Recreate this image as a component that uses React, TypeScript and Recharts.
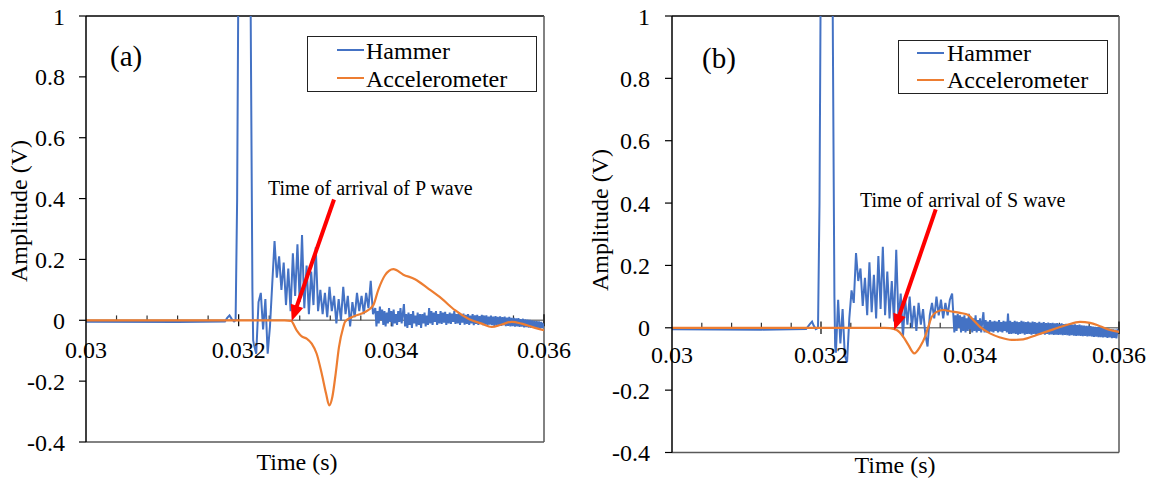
import React from 'react';
import { LineChart, Line, XAxis, YAxis, ReferenceLine, ReferenceDot, Legend } from 'recharts';

const FONT = '"Liberation Serif", "Times New Roman", Times, serif';
const BLUE = '#4472C4';
const ORANGE = '#ED7D31';
const RED = '#FF0000';

const seriesNames = ['Hammer', 'Accelerometer'];
const seriesColors = [BLUE, ORANGE];

const yTicks = [-0.4, -0.2, 0, 0.2, 0.4, 0.6, 0.8, 1];
const yMinorTicks = [-0.4, -0.36, -0.32, -0.28, -0.24, -0.2, -0.16, -0.12, -0.08, -0.04, 0, 0.04, 0.08, 0.12, 0.16, 0.2, 0.24, 0.28, 0.32, 0.36, 0.4, 0.44, 0.48, 0.52, 0.56, 0.6, 0.64, 0.68, 0.72, 0.76, 0.8, 0.84, 0.88, 0.92, 0.96, 1];
const xMajorTicks = [0.03, 0.032, 0.034, 0.036];
const xMinorTicks = [0.0304, 0.0308, 0.0312, 0.0316, 0.0324, 0.0328, 0.0332, 0.0336, 0.0344, 0.0348, 0.0352, 0.0356];

// sampling of the noisy part of the hammer record
const burstStart = 0.0322;
const burstStep = 0.00003;
const tailStart = 0.03379;
const tailStep = 0.000015;

// Panel (a) -----------------------------------------------------------
const hammerAPre = [
  [0.03, -0.005], [0.0312, -0.006], [0.03182, -0.004], [0.03185, 0.008], [0.03188, 0.016],
  [0.03191, 0.004], [0.03194, -0.004], [0.03196, 0.0], [0.03198, 0.4], [0.032, 1.3],
  [0.03205, 2.2], [0.0321, 2.5], [0.03214, 1.8], [0.03216, 0.9], [0.03218, 0.1], [0.03219, -0.066],
];
const hammerABurst = [
  -0.08, -0.11, 0.06, 0.09, -0.03, 0.07, -0.11, -0.02, 0.12, 0.26,
  0.14, 0.21, 0.10, 0.19, 0.05, 0.17, 0.03, 0.22, 0.08, 0.25,
  0.06, 0.28, 0.04, 0.18, 0.02, 0.16, 0.05, 0.24, 0.03, 0.10,
  0.02, 0.09, 0.01, 0.11, 0.03, 0.08, -0.01, 0.07, 0.00, 0.11,
  0.02, 0.08, -0.02, 0.06, 0.01, 0.09, 0.03, 0.08, 0.02, 0.09,
  0.04, 0.13, 0.02,
];
const hammerATail = [
  0.04, -0.02, 0.03, -0.01, 0.045, 0.0, 0.035, -0.015, 0.03, -0.02,
  0.025, -0.01, 0.04, -0.005, 0.03, -0.02, 0.035, -0.01, 0.02, -0.015,
  0.03, -0.005, 0.04, -0.01, 0.02, 0.053, -0.02, 0.02, -0.025, 0.025,
  -0.015, 0.02, -0.025, 0.03, -0.01, 0.015, -0.02, 0.025, -0.015, 0.02,
  -0.025, 0.02, -0.01, 0.025, -0.02, 0.015, -0.015, 0.04, -0.01, 0.03,
  -0.015, 0.025, -0.005, 0.03, -0.015, 0.02, -0.01, 0.03, -0.012, 0.025,
  -0.008, 0.028, -0.015, 0.02, -0.01, 0.025, -0.012, 0.022, -0.005, 0.03,
  -0.012, 0.02, -0.01, 0.025, -0.015, 0.018, -0.008, 0.022, -0.014, 0.018,
  -0.012, 0.02, -0.015, 0.015, -0.01, 0.02, -0.016, 0.016, -0.012, 0.018,
  -0.015, 0.014, -0.012, 0.018, -0.016, 0.015, -0.014, 0.016, -0.017, 0.012,
  -0.014, 0.015, -0.016, 0.012, -0.018, 0.014, -0.015, 0.011, -0.017, 0.013,
  -0.018, 0.01, -0.016, 0.012, -0.019, 0.009, -0.018, 0.011, -0.02, 0.008,
  -0.019, 0.008, -0.021, 0.006, -0.02, 0.007, -0.022, 0.004, -0.021, 0.005,
  -0.023, 0.003, -0.022, 0.002, -0.024, 0.001, -0.025, 0.0, -0.024, -0.002,
  -0.026, -0.003, -0.025, -0.004, -0.027, -0.005, -0.026, -0.01,
];
const accelA = [
  [0.03, 0], [0.0326, 0], [0.032686, -0.002], [0.03276, -0.033], [0.032826, -0.053],
  [0.032891, -0.06], [0.032957, -0.077], [0.033022, -0.11], [0.033088, -0.175], [0.033144, -0.24],
  [0.033187, -0.28], [0.033227, -0.252], [0.033271, -0.175], [0.033314, -0.088], [0.033371, -0.022],
  [0.033393, -0.005], [0.033481, 0.01], [0.033612, 0.022], [0.033655, 0.027], [0.033764, 0.05],
  [0.033829, 0.1], [0.033917, 0.148], [0.034026, 0.168], [0.034157, 0.15], [0.03431, 0.135],
  [0.034484, 0.104], [0.03466, 0.071], [0.034834, 0.033], [0.035008, 0.005], [0.035184, -0.011],
  [0.035315, -0.022], [0.035446, -0.014], [0.035577, -0.005], [0.035708, -0.011], [0.035882, -0.025],
  [0.036, -0.033],
];
const arrowA = [[0.033249, 0.397], [0.032695, -0.002]];
const annotA = 'Time of arrival of P wave';

// Panel (b) -----------------------------------------------------------
const hammerBPre = [
  [0.03, -0.005], [0.0312, -0.006], [0.0318, -0.004], [0.03185, 0.012], [0.03188, 0.02],
  [0.0319, 0.008], [0.03193, -0.004], [0.03196, 0.0], [0.03198, 0.4], [0.032, 1.3],
  [0.03205, 2.2], [0.0321, 2.5], [0.03214, 1.8], [0.03216, 0.9], [0.03218, 0.1], [0.03219, -0.06],
];
const hammerBBurst = [
  -0.08, 0.09, -0.05, 0.06, -0.09, -0.11, 0.03, 0.12, 0.08, 0.24,
  0.15, 0.19, 0.07, 0.16, 0.04, 0.21, 0.05, 0.17, 0.03, 0.23,
  0.06, 0.26, 0.04, 0.18, 0.03, 0.15, 0.02, 0.25, 0.02, 0.11,
  -0.03, 0.09, 0.01, 0.10, 0.00, 0.07, -0.01, 0.08, 0.01, 0.06,
  -0.02, -0.06, 0.04, 0.08, 0.03, 0.10, 0.04, 0.09, 0.03, 0.08,
  0.04, 0.09, 0.11,
];
const hammerBTail = [
  -0.015, 0.04, -0.01, 0.045, 0.0, 0.04, -0.015, 0.035, -0.01, 0.04,
  -0.015, 0.03, -0.01, 0.045, -0.005, 0.035, -0.015, 0.03, -0.01, 0.04,
  -0.015, 0.025, -0.01, 0.03, -0.015, 0.02, 0.05, -0.015, 0.025, -0.015,
  0.02, -0.015, 0.025, -0.012, 0.02, -0.015, 0.022, -0.01, 0.02, -0.015,
  0.025, -0.012, 0.018, -0.015, 0.022, -0.01, 0.02, -0.015, 0.046, -0.02,
  0.022, -0.02, 0.018, -0.018, 0.022, -0.02, 0.02, -0.022, 0.018, -0.02,
  0.022, -0.018, 0.02, -0.022, 0.018, -0.02, 0.02, -0.02, 0.017, -0.022,
  0.02, -0.02, 0.018, -0.021, 0.016, -0.02, 0.019, -0.022, 0.016, -0.02,
  0.018, -0.022, 0.015, -0.02, 0.017, -0.022, 0.015, -0.021, 0.016, -0.023,
  0.014, -0.022, 0.015, -0.023, 0.013, -0.022, 0.014, -0.024, 0.012, -0.023,
  0.013, -0.024, 0.011, -0.025, 0.012, -0.024, 0.01, -0.025, 0.011, -0.026,
  0.009, -0.025, 0.01, -0.026, 0.008, -0.027, 0.007, -0.026, 0.006, -0.028,
  0.006, -0.027, 0.005, -0.028, 0.004, -0.029, 0.003, -0.028, 0.002, -0.03,
  0.002, -0.03, 0.0, -0.031, 0.0, -0.03, -0.002, -0.032, -0.003, -0.031,
  -0.004, -0.033, -0.005, -0.032, -0.006, -0.034, -0.008, -0.012,
];
const accelB = [
  [0.03, 0], [0.03285, 0], [0.032926, -0.001], [0.033016, -0.007], [0.033105, -0.029],
  [0.033172, -0.055], [0.033252, -0.082], [0.033329, -0.061], [0.033396, -0.029], [0.03344, 0.003],
  [0.033486, 0.035], [0.033553, 0.051], [0.033642, 0.057], [0.033732, 0.053], [0.033866, 0.048],
  [0.033977, 0.041], [0.034044, 0.025], [0.034134, 0.003], [0.034268, -0.018], [0.034403, -0.031],
  [0.03456, -0.039], [0.034715, -0.037], [0.034895, -0.023], [0.035118, -0.005], [0.035298, 0.009],
  [0.035477, 0.019], [0.035611, 0.016], [0.035745, 0.005], [0.035879, -0.007], [0.036, -0.013],
];
const arrowB = [[0.03354, 0.3795], [0.032984, -0.007]];
const annotB = 'Time of arrival of S wave';

type Pt = { t: number; v: number };
const toPts = (pairs: number[][]): Pt[] => pairs.map(([t, v]) => ({ t, v }));
const sampled = (start: number, step: number, vals: number[]): Pt[] =>
  vals.map((v, i) => ({ t: Number((start + i * step).toFixed(7)), v }));
const hammerSeries = (pre: number[][], burst: number[], tail: number[]): Pt[] => [
  ...toPts(pre),
  ...sampled(burstStart, burstStep, burst),
  ...sampled(tailStart, tailStep, tail),
];

const ArrowShape = (p: any) => {
  const { x1, y1, x2, y2 } = p;
  const dx = x2 - x1;
  const dy = y2 - y1;
  const len = Math.hypot(dx, dy) || 1;
  const ux = dx / len;
  const uy = dy / len;
  const headLen = 16;
  const half = 6.5;
  const bx = x2 - ux * headLen;
  const by = y2 - uy * headLen;
  const nx = -uy;
  const ny = ux;
  return (
    <g>
      <line x1={x1} y1={y1} x2={bx + ux * 2} y2={by + uy * 2} stroke={RED} strokeWidth={4} />
      <polygon
        points={`${x2},${y2} ${bx + nx * half},${by + ny * half} ${bx - nx * half},${by - ny * half}`}
        fill={RED}
      />
    </g>
  );
};

interface LegendGeom {
  left: number; top: number; width: number; height: number;
  sx1: number; sx2: number; tx: number; lineY: number[]; baseY: number[];
}

const LegendBox = ({ g }: { g: LegendGeom }) => (
  <svg width={g.width} height={g.height} style={{ display: 'block' }}>
    <rect x={0.5} y={0.5} width={g.width - 1} height={g.height - 1} fill="#fff" stroke="#222" strokeWidth={1} />
    {seriesNames.map((n, i) => (
      <g key={n}>
        <line x1={g.sx1} x2={g.sx2} y1={g.lineY[i]} y2={g.lineY[i]} stroke={seriesColors[i]} strokeWidth={2} />
        <text x={g.tx} y={g.baseY[i]} fontFamily={FONT} fontSize={24} fill="#000">{n}</text>
      </g>
    ))}
  </svg>
);

interface PanelProps {
  left: number;
  chartWidth: number;
  yAxisWidth: number;
  marginRight: number;
  marginBottom: number;
  tickMargin: number;
  xLabelDy: number;
  hammer: Pt[];
  accel: Pt[];
  arrow: number[][];
  legend: LegendGeom;
}

const Panel = (p: PanelProps) => {
  const tickStyle = { fill: '#000', fontSize: 24, fontFamily: FONT };
  return (
    <div style={{ position: 'absolute', left: p.left, top: 0, width: p.chartWidth, height: 480 }}>
      <LineChart
        width={p.chartWidth}
        height={480}
        margin={{ top: 16, right: p.marginRight, bottom: p.marginBottom, left: 0 }}
      >
        <XAxis dataKey="t" type="number" domain={[0.03, 0.036]} allowDataOverflow hide />
        <YAxis
          type="number"
          domain={[-0.4, 1]}
          allowDataOverflow
          ticks={yTicks}
          interval={0}
          width={p.yAxisWidth}
          tickSize={7}
          tickMargin={p.tickMargin}
          tick={tickStyle}
          tickFormatter={(v: number) => String(v)}
          axisLine={{ stroke: '#000', strokeWidth: 1.5 }}
          tickLine={{ stroke: '#000', strokeWidth: 1.2 }}
        />
        <YAxis
          yAxisId="minor"
          type="number"
          domain={[-0.4, 1]}
          allowDataOverflow
          ticks={yMinorTicks}
          interval={0}
          mirror
          width={0}
          tickSize={6}
          tick={false}
          axisLine={false}
          tickLine={{ stroke: '#000', strokeWidth: 1.2 }}
        />
        {/* plot border */}
        <ReferenceLine y={1} stroke="#000" strokeWidth={1.5} ifOverflow="visible" />
        <ReferenceLine x={0.036} stroke="#595959" strokeWidth={1.5} ifOverflow="visible" />
        <ReferenceLine y={-0.4} stroke="#595959" strokeWidth={1.5} ifOverflow="visible" />
        {/* horizontal axis drawn at zero */}
        <ReferenceLine y={0} stroke="#7f7f7f" strokeWidth={1.5} ifOverflow="visible" />
        {xMinorTicks.map((t) => (
          <ReferenceLine key={'mn' + t} segment={[{ x: t, y: 0 }, { x: t, y: 0.016 }]} stroke="#333" strokeWidth={1.2} ifOverflow="visible" />
        ))}
        {xMajorTicks.slice(1).map((t) => (
          <ReferenceLine key={'mj' + t} segment={[{ x: t, y: -0.02 }, { x: t, y: 0.02 }]} stroke="#000" strokeWidth={1.2} ifOverflow="visible" />
        ))}
        <Line
          data={p.hammer}
          dataKey="v"
          name={seriesNames[0]}
          type="linear"
          stroke={BLUE}
          strokeWidth={2}
          dot={false}
          activeDot={false}
          isAnimationActive={false}
        />
        <Line
          data={p.accel}
          dataKey="v"
          name={seriesNames[1]}
          type="monotone"
          stroke={ORANGE}
          strokeWidth={2.2}
          dot={false}
          activeDot={false}
          isAnimationActive={false}
        />
        {xMajorTicks.map((t) => (
          <ReferenceDot
            key={'lb' + t}
            x={t}
            y={0}
            r={0}
            fill="none"
            stroke="none"
            ifOverflow="visible"
            label={{
              content: (lp: any) => (
                <text
                  x={lp.viewBox.x + (lp.viewBox.width || 0) / 2}
                  y={lp.viewBox.y + (lp.viewBox.height || 0) / 2 + p.xLabelDy}
                  textAnchor="middle"
                  fontFamily={FONT}
                  fontSize={24}
                  fill="#000"
                >
                  {String(t)}
                </text>
              ),
            }}
          />
        ))}
        <ReferenceLine
          segment={[{ x: p.arrow[0][0], y: p.arrow[0][1] }, { x: p.arrow[1][0], y: p.arrow[1][1] }]}
          shape={ArrowShape}
          ifOverflow="visible"
          isFront
        />
        <Legend
          layout="horizontal"
          verticalAlign="middle"
          align="center"
          wrapperStyle={{
            position: 'absolute',
            left: p.legend.left,
            top: p.legend.top,
            width: p.legend.width,
            height: p.legend.height,
            margin: 0,
            padding: 0,
          }}
          content={() => <LegendBox g={p.legend} />}
        />
      </LineChart>
    </div>
  );
};

const hammerAData = hammerSeries(hammerAPre, hammerABurst, hammerATail);
const hammerBData = hammerSeries(hammerBPre, hammerBBurst, hammerBTail);
const accelAData = toPts(accelA);
const accelBData = toPts(accelB);

export default function App() {
  return (
    <div style={{ position: 'absolute', left: 0, top: 0, width: 1156, height: 480, background: '#fff', overflow: 'hidden' }}>
      <Panel
        left={0}
        chartWidth={580}
        yAxisWidth={86}
        marginRight={36}
        marginBottom={38}
        tickMargin={14}
        xLabelDy={38}
        hammer={hammerAData}
        accel={accelAData}
        arrow={arrowA}
        legend={{ left: 307, top: 36, width: 230, height: 56, sx1: 30, sx2: 57, tx: 59, lineY: [14, 42], baseY: [23, 51] }}
      />
      <Panel
        left={580}
        chartWidth={576}
        yAxisWidth={92}
        marginRight={37}
        marginBottom={27.5}
        tickMargin={15}
        xLabelDy={35}
        hammer={hammerBData}
        accel={accelBData}
        arrow={arrowB}
        legend={{ left: 318, top: 40, width: 210, height: 54, sx1: 19, sx2: 46, tx: 49, lineY: [13, 40], baseY: [21, 48] }}
      />
      <svg
        width={1156}
        height={480}
        style={{ position: 'absolute', left: 0, top: 0, pointerEvents: 'none' }}
      >
        <g fontFamily={FONT} fill="#000">
          <text x={110} y={66} fontSize={29}>(a)</text>
          <text x={702} y={68} fontSize={29}>(b)</text>
          <text x={268} y={195} fontSize={20}>{annotA}</text>
          <text x={860} y={207} fontSize={20}>{annotB}</text>
          <text x={297} y={470} fontSize={24} textAnchor="middle">Time (s)</text>
          <text x={895} y={473} fontSize={24} textAnchor="middle">Time (s)</text>
          <text transform="translate(27,211) rotate(-90)" fontSize={24} textAnchor="middle">Amplitude (V)</text>
          <text transform="translate(608,220) rotate(-90)" fontSize={24} textAnchor="middle">Amplitude (V)</text>
        </g>
      </svg>
    </div>
  );
}
